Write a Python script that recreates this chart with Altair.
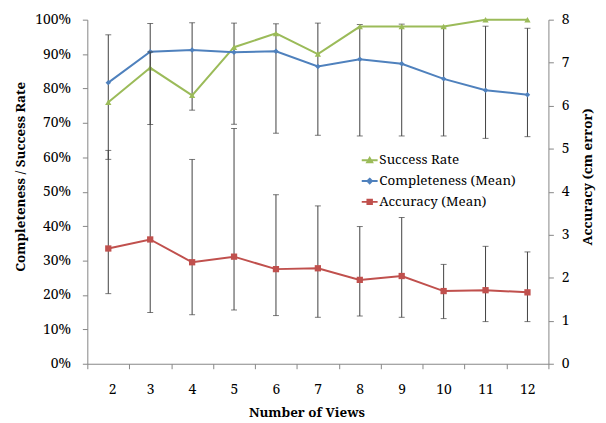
import altair as alt
import pandas as pd

views = [2, 3, 4, 5, 6, 7, 8, 9, 10, 11, 12]
success_rate = [76, 86, 78, 92, 96, 90, 98, 98, 98, 100, 100]
completeness_mean = [81.7, 90.7, 91.2, 90.5, 90.8, 86.4, 88.5, 87.2, 82.8, 79.5, 78.2]
completeness_upper = [95.6, 98.9, 99.1, 99.0, 98.8, 99.0, 98.6, 98.7, 97.9, 98.1, 97.5]
completeness_lower = [59.4, 69.5, 73.7, 69.6, 67.0, 66.4, 66.2, 66.2, 66.2, 65.5, 66.0]
accuracy_mean = [2.68, 2.89, 2.36, 2.49, 2.20, 2.22, 1.95, 2.04, 1.69, 1.71, 1.66]
accuracy_upper = [4.96, 7.25, 4.75, 5.47, 3.93, 3.67, 3.19, 3.40, 2.31, 2.73, 2.60]
accuracy_lower = [1.63, 1.19, 1.14, 1.25, 1.12, 1.08, 1.11, 1.08, 1.05, 0.98, 0.98]

series = ["Success Rate", "Completeness (Mean)", "Accuracy (Mean)"]
colors = ["#9BBB59", "#4F81BD", "#C0504D"]
legend_shapes = [
    "M-1.6,0H1.6M-0.5,0.4L0,-0.45L0.5,0.4Z",
    "M-1.6,0H1.6M0,-0.45L0.45,0L0,0.45L-0.45,0Z",
    "M-1.6,0H1.6M-0.45,-0.45H0.45V0.45H-0.45Z",
]

FONT = "Noto Serif"
AXIS_GRAY = "#868686"
ERR = "#404040"

left = pd.DataFrame({
    "view": views,
    "success": success_rate,
    "comp": completeness_mean,
    "comp_hi": completeness_upper,
    "comp_lo": completeness_lower,
})
right = pd.DataFrame({
    "view": views,
    "acc": accuracy_mean,
    "acc_hi": accuracy_upper,
    "acc_lo": accuracy_lower,
})
leg = pd.DataFrame({"series": series, "view": [2, 2, 2], "val": [success_rate[0], completeness_mean[0], completeness_mean[0]]})

x_enc = alt.X(
    "view:Q",
    scale=alt.Scale(domain=[1.5, 12.5], nice=False, zero=False),
    axis=alt.Axis(
        values=[1.5 + i for i in range(12)],
        labelExpr="datum.value > 12 ? '' : format(datum.value + 0.5, 'd')",
        labelOffset=21,
        title="Number of Views",
        titleX=221, titleY=49, titleBaseline="middle", titleAlign="center",
        grid=False, tickSize=5, labelPadding=14,
    ),
)

left_axis = alt.Axis(
    values=list(range(0, 101, 10)),
    labelExpr="datum.value + '%'",
    title="Completeness / Success Rate",
    orient="left",
    titleX=-67, titleY=158, titleBaseline="middle", titleAlign="center",
    grid=False, tickSize=5, labelPadding=12,
)
right_axis = alt.Axis(
    values=list(range(0, 9)),
    title="Accuracy (cm error)",
    orient="right",
    titleAngle=270,
    titleX=39, titleY=158, titleBaseline="middle", titleAlign="center",
    grid=False, tickSize=5, labelPadding=8,
)

def ly(field):
    return alt.Y(f"{field}:Q", scale=alt.Scale(domain=[0, 100], nice=False), axis=left_axis)

def ry(field):
    return alt.Y(f"{field}:Q", scale=alt.Scale(domain=[0, 8], nice=False), axis=right_axis)

lb = alt.Chart(left)
rb = alt.Chart(right)

comp_err = lb.mark_rule(color=ERR, strokeWidth=1).encode(x=x_enc, y=ly("comp_lo"), y2="comp_hi")
comp_cap_hi = lb.mark_tick(orient="horizontal", size=6, thickness=1, color=ERR).encode(x=x_enc, y=ly("comp_hi"))
comp_cap_lo = lb.mark_tick(orient="horizontal", size=6, thickness=1, color=ERR).encode(x=x_enc, y=ly("comp_lo"))
succ_line = lb.mark_line(color=colors[0], strokeWidth=2).encode(x=x_enc, y=ly("success"))
succ_pts = lb.mark_point(shape="triangle-up", filled=True, size=40, color=colors[0], opacity=1).encode(x=x_enc, y=ly("success"))
comp_line = lb.mark_line(color=colors[1], strokeWidth=2).encode(x=x_enc, y=ly("comp"))
comp_pts = lb.mark_point(shape="diamond", filled=True, size=30, color=colors[1], opacity=1).encode(x=x_enc, y=ly("comp"))

legend_def = alt.Legend(
    title=None, orient="none", legendX=278, legendY=135,
    labelFont=FONT, labelFontSize=13.5, labelColor="black",
    symbolSize=100, symbolStrokeWidth=2, symbolOpacity=1,
    labelOffset=3, rowPadding=6,
)
color_scale = alt.Scale(domain=series, range=colors)
legend_layer = alt.Chart(leg).mark_point(filled=True, opacity=0).encode(
    x=x_enc,
    y=ly("val"),
    fill=alt.Fill("series:N", scale=color_scale, legend=legend_def),
    stroke=alt.Stroke("series:N", scale=color_scale, legend=legend_def),
    shape=alt.Shape("series:N", scale=alt.Scale(domain=series, range=legend_shapes), legend=legend_def),
)

acc_err = rb.mark_rule(color=ERR, strokeWidth=1).encode(x=x_enc, y=ry("acc_lo"), y2="acc_hi")
acc_cap_hi = rb.mark_tick(orient="horizontal", size=6, thickness=1, color=ERR).encode(x=x_enc, y=ry("acc_hi"))
acc_cap_lo = rb.mark_tick(orient="horizontal", size=6, thickness=1, color=ERR).encode(x=x_enc, y=ry("acc_lo"))
acc_line = rb.mark_line(color=colors[2], strokeWidth=2).encode(x=x_enc, y=ry("acc"))
acc_pts = rb.mark_point(shape="square", filled=True, size=40, color=colors[2], opacity=1).encode(x=x_enc, y=ry("acc"))

left_layer = alt.layer(comp_err, comp_cap_hi, comp_cap_lo, succ_line, succ_pts, comp_line, comp_pts, legend_layer)
right_layer = alt.layer(acc_err, acc_cap_hi, acc_cap_lo, acc_line, acc_pts)

chart = alt.layer(left_layer, right_layer).resolve_scale(y="independent").properties(
    width=465, height=347,
    autosize=alt.AutoSizeParams(type="none"),
    padding={"left": 80, "top": 10, "right": 50, "bottom": 60},
).configure(font=FONT).configure_view(stroke=None).configure_axis(
    labelFont=FONT, labelFontSize=14, labelColor="black",
    titleFont=FONT, titleFontSize=13.5, titleFontWeight="bold", titleColor="black",
    domainColor=AXIS_GRAY, tickColor=AXIS_GRAY, domainWidth=1, tickWidth=1,
)

chart.save("out.html", embed_options={"renderer": "svg", "actions": False})
